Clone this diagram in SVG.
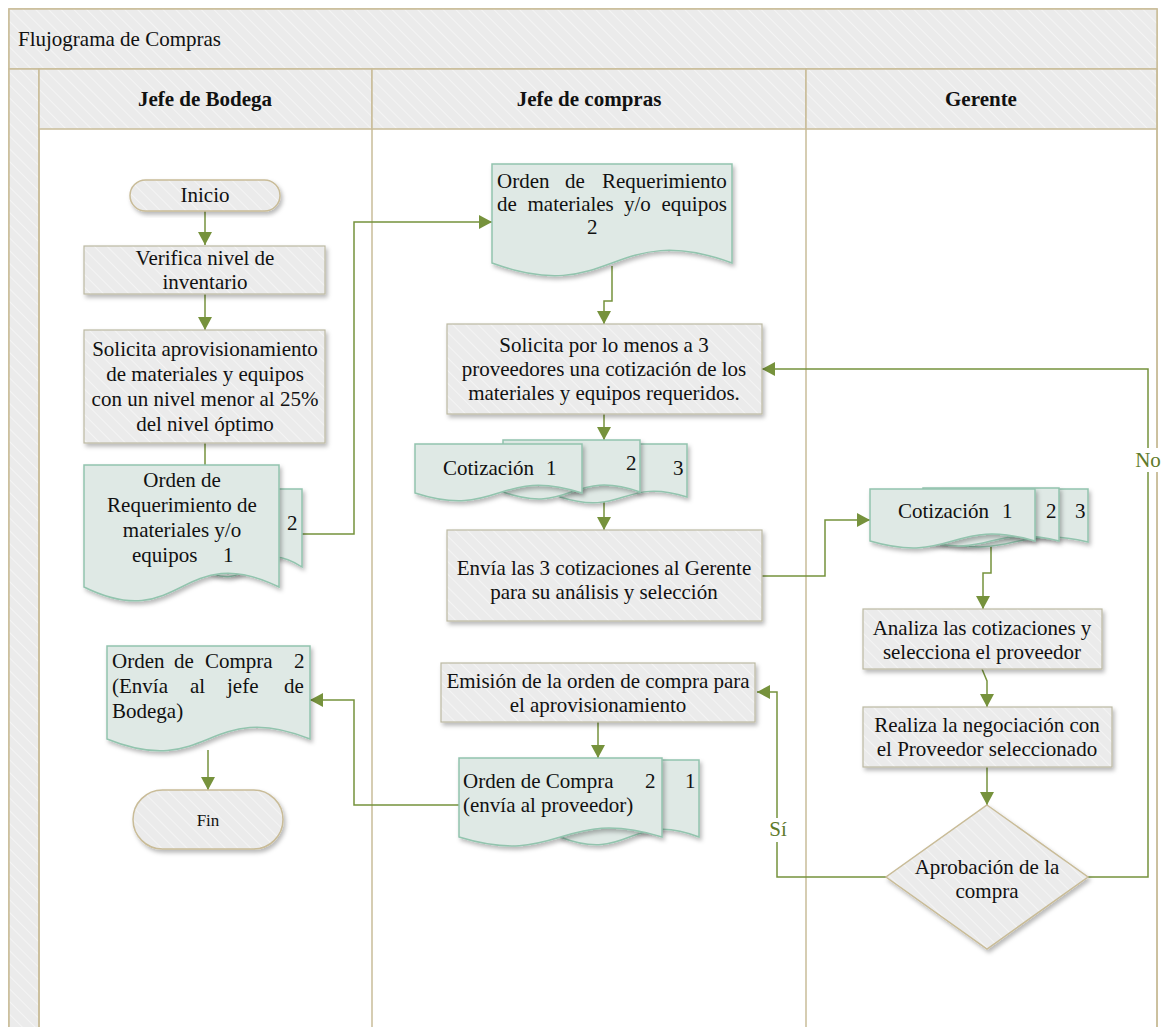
<svg xmlns="http://www.w3.org/2000/svg" width="1163" height="1027" viewBox="0 0 1163 1027">
<defs>
<pattern id="hatch" patternUnits="userSpaceOnUse" width="9" height="9" patternTransform="rotate(-45)">
<rect width="9" height="9" fill="#ebebeb"/>
<line x1="0" y1="0" x2="0" y2="9" stroke="#f4f4f4" stroke-width="2"/>
</pattern>
<filter id="sh" x="-10%" y="-10%" width="125%" height="130%">
<feDropShadow dx="2" dy="3" stdDeviation="2" flood-color="#000" flood-opacity="0.28"/>
</filter>
<marker id="ah" markerUnits="userSpaceOnUse" markerWidth="14" markerHeight="14" refX="13" refY="7" orient="auto">
<path d="M0,0 L13,7 L0,14 z" fill="#76923c"/>
</marker>
<style>
.frame{fill:#fff;stroke:#c9bc98;stroke-width:1.5}
.band{fill:url(#hatch);stroke:#c9bc98;stroke-width:1.5}
.lane{stroke:#c9bc98;stroke-width:1.5;fill:none}
.proc{fill:url(#hatch);stroke:#bcb9a2;stroke-width:1.2;filter:url(#sh)}
.term{fill:url(#hatch);stroke:#c9bc98;stroke-width:1.5;filter:url(#sh)}
.doc{fill:#dfe9e5;stroke:#92c4ae;stroke-width:1.5;filter:url(#sh)}
.conn{fill:none;stroke:#76923c;stroke-width:1.5}
.arr{marker-end:url(#ah)}
.t{font-family:"Liberation Serif","Times New Roman",serif;font-size:21px;fill:#111}
.c{text-anchor:middle}
.b{font-weight:bold}
.lbl{fill:#5f7a2a}
</style>
</defs>

<g id="swimlanes">
<rect class="frame" x="9" y="9" width="1148" height="1035"/>
<rect class="band" x="9" y="9" width="1148" height="60"/>
<text class="t" x="18" y="46">Flujograma de Compras</text>
<rect class="band" x="9" y="69" width="30" height="975"/>
<rect class="band" x="39" y="69" width="333" height="60"/>
<rect class="band" x="372" y="69" width="434" height="60"/>
<rect class="band" x="806" y="69" width="351" height="60"/>
<text class="t c b" x="205" y="106">Jefe de Bodega</text>
<text class="t c b" x="589" y="106">Jefe de compras</text>
<text class="t c b" x="981" y="106">Gerente</text>
<line class="lane" x1="39" y1="129" x2="39" y2="1044"/>
<line class="lane" x1="372" y1="129" x2="372" y2="1044"/>
<line class="lane" x1="806" y1="129" x2="806" y2="1044"/>
<line class="lane" x1="1157" y1="69" x2="1157" y2="1044"/>
</g>

<g id="connectors">
<path class="conn arr" d="M205,211 V245"/>
<path class="conn arr" d="M205,294 V330"/>
<path class="conn" d="M205,443 V465"/>
<path class="conn arr" d="M302,534 H354 V222 H492"/>
<path class="conn arr" d="M612,266 V301 H604 V324"/>
<path class="conn arr" d="M604,414 V440"/>
<path class="conn arr" d="M604,496 V530"/>
<path class="conn arr" d="M762,576 H825 V520 H870"/>
<path class="conn arr" d="M991,545 V573 H983 V609"/>
<path class="conn arr" d="M982,669 L987,681 V707"/>
<path class="conn arr" d="M987,767 V805"/>
<path class="conn arr" d="M886,877 H777 V692 H757"/>
<path class="conn arr" d="M1088,877 H1148 V369 H762"/>
<path class="conn arr" d="M598,722 V758"/>
<path class="conn arr" d="M459,805 H354 V700 H310"/>
<path class="conn arr" d="M208,750 V790"/>
<rect x="768" y="818" width="20" height="24" fill="#fff"/>
<text class="t c lbl" x="778" y="836">Sí</text>
<rect x="1136" y="448" width="24" height="24" fill="#fff"/>
<text class="t c lbl" x="1148" y="467">No</text>
</g>

<g id="inicio">
<rect class="term" x="130" y="180" width="150" height="31" rx="15.5"/>
<text class="t c" x="205" y="202">Inicio</text>
</g>

<g id="verifica">
<rect class="proc" x="84" y="246" width="241" height="48"/>
<text class="t c" x="205" y="265">Verifica nivel de</text>
<text class="t c" x="205" y="289">inventario</text>
</g>

<g id="solicita-aprov">
<rect class="proc" x="84" y="330" width="241" height="113"/>
<text class="t c" x="205" y="356">Solicita aprovisionamiento</text>
<text class="t c" x="205" y="381">de materiales y equipos</text>
<text class="t c" x="205" y="406">con un nivel menor al 25%</text>
<text class="t c" x="205" y="431">del nivel óptimo</text>
</g>

<g id="orden-req-1">
<path class="doc" d="M200,489 H302 V567 C251,533 251,601 200,567 Z"/>
<path class="doc" d="M84,465 H279 V587 C181.5,539 181.5,635 84,587 Z"/>
<text class="t c" x="182" y="487">Orden de</text>
<text class="t c" x="182" y="512">Requerimiento de</text>
<text class="t c" x="182" y="537">materiales y/o</text>
<text class="t" y="562"><tspan x="132">equipos</tspan><tspan x="223">1</tspan></text>
<text class="t" x="287" y="530">2</text>
</g>

<g id="orden-req-2">
<path class="doc" d="M492,164 H732 V263 C612,219 612,307 492,263 Z"/>
<text class="t" y="188"><tspan x="497">Orden</tspan><tspan x="565">de</tspan><tspan x="602">Requerimiento</tspan></text>
<text class="t" y="211"><tspan x="497">de</tspan><tspan x="527.5">materiales</tspan><tspan x="624">y/o</tspan><tspan x="661.5">equipos</tspan></text>
<text class="t" x="587" y="234">2</text>
</g>

<g id="solicita-cotiz">
<rect class="proc" x="447" y="324" width="315" height="90"/>
<text class="t c" x="604" y="352">Solicita por lo menos a 3</text>
<text class="t c" x="604" y="376">proveedores una cotización de los</text>
<text class="t c" x="604" y="400">materiales y equipos requeridos.</text>
</g>

<g id="cotizaciones-compras">
<path class="doc" d="M560,444 H687 V497 C623.5,477 623.5,517 560,497 Z"/>
<path class="doc" d="M503,440 H640 V492 C571.5,468 571.5,516 503,492 Z"/>
<path class="doc" d="M415,444 H582 V493 C498.5,466 498.5,520 415,493 Z"/>
<text class="t" x="443" y="475">Cotización</text>
<text class="t" x="546" y="475">1</text>
<text class="t" x="626" y="470">2</text>
<text class="t" x="673" y="475">3</text>
</g>

<g id="envia">
<rect class="proc" x="447" y="530" width="315" height="91"/>
<text class="t c" x="604" y="575">Envía las 3 cotizaciones al Gerente</text>
<text class="t c" x="604" y="599">para su análisis y selección</text>
</g>

<g id="cotizaciones-gerente">
<path class="doc" d="M940,489 H1088 V542 C1014,525 1014,559 940,542 Z"/>
<path class="doc" d="M923,488 H1059 V541 C991,524 991,558 923,541 Z"/>
<path class="doc" d="M870,489 H1035 V541 C952.5,517 952.5,565 870,541 Z"/>
<text class="t" x="898" y="518">Cotización</text>
<text class="t" x="1002" y="518">1</text>
<text class="t" x="1046" y="518">2</text>
<text class="t" x="1075" y="518">3</text>
</g>

<g id="analiza">
<rect class="proc" x="863" y="609" width="239" height="60"/>
<text class="t c" x="982" y="635">Analiza las cotizaciones y</text>
<text class="t c" x="982" y="659">selecciona el proveedor</text>
</g>

<g id="realiza">
<rect class="proc" x="863" y="707" width="249" height="60"/>
<text class="t c" x="987" y="732">Realiza la negociación con</text>
<text class="t c" x="987" y="756">el Proveedor seleccionado</text>
</g>

<g id="aprobacion">
<path class="term" d="M987,805 L1088,877 L987,949 L886,877 Z"/>
<text class="t c" x="987" y="874">Aprobación de la</text>
<text class="t c" x="987" y="898">compra</text>
</g>

<g id="emision">
<rect class="proc" x="441" y="663" width="314" height="59"/>
<text class="t c" x="598" y="688">Emisión de la orden de compra para</text>
<text class="t c" x="598" y="712">el aprovisionamiento</text>
</g>

<g id="orden-compra-proveedor">
<path class="doc" d="M560,760 H699 V837 C629.5,810 629.5,864 560,837 Z"/>
<path class="doc" d="M459,758 H662 V837 C560.5,806 560.5,868 459,837 Z"/>
<text class="t" x="463" y="788">Orden de Compra</text>
<text class="t" x="645" y="788">2</text>
<text class="t" x="685" y="788">1</text>
<text class="t" x="463" y="812">(envía al proveedor)</text>
</g>

<g id="orden-compra-bodega">
<path class="doc" d="M107,646 H310 V739 C208.5,698 208.5,780 107,739 Z"/>
<text class="t" y="668"><tspan x="112">Orden</tspan><tspan x="174">de</tspan><tspan x="205">Compra</tspan><tspan x="294">2</tspan></text>
<text class="t" y="693"><tspan x="112">(Envía</tspan><tspan x="190">al</tspan><tspan x="227">jefe</tspan><tspan x="284">de</tspan></text>
<text class="t" x="112" y="718">Bodega)</text>
</g>

<g id="fin">
<rect class="term" x="133" y="790" width="150" height="59" rx="29.5"/>
<text class="t c" x="208" y="826" style="font-size:17px">Fin</text>
</g>
</svg>
